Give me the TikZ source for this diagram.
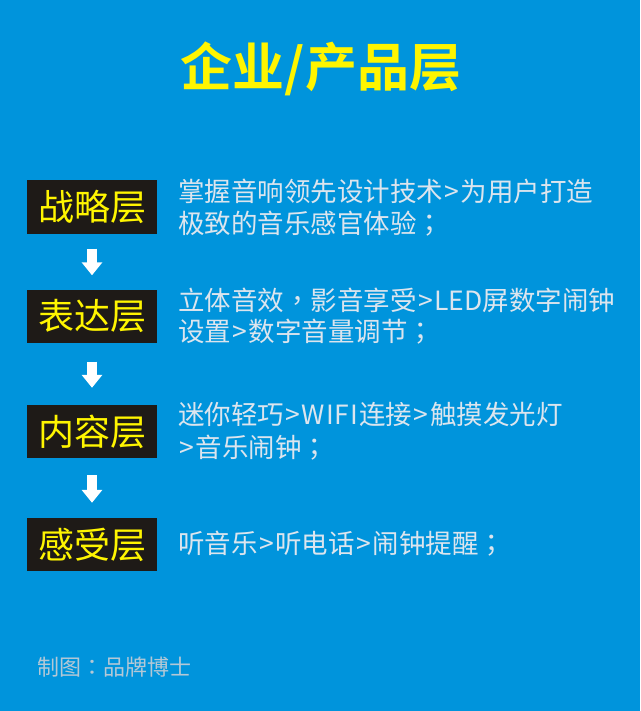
\documentclass[tikz,border=0pt]{standalone}
\usepackage{fontspec}
\setmainfont{Noto Sans CJK SC}[BoldFont={* Bold}]
\newfontfamily\tcpunct{Noto Sans CJK TC}
\newcommand{\cp}[1]{{\tcpunct #1}}
\newcommand{\gtsign}{\kern1.5pt>\kern1.5pt}
\usetikzlibrary{arrows.meta}
\definecolor{bgblue}{HTML}{0094DC}
\definecolor{boxdark}{HTML}{1E1A17}
\definecolor{ltext}{HTML}{DCE5EE}
\definecolor{ftext}{HTML}{B4C8D6}
\definecolor{ylw}{HTML}{FFF500}
\begin{document}
\begin{tikzpicture}[x=1pt,y=-1pt,
  layerbox/.style={fill=boxdark, text=ylw, minimum width=130pt, minimum height=53pt, inner sep=0pt,
    font=\fontsize{36}{40}\selectfont},
  desc/.style={anchor=west, inner sep=0pt, text=ltext, font=\fontsize{26.5}{30}\selectfont},
  titlestyle/.style={inner sep=0pt, text=ylw, font=\fontsize{52}{56}\selectfont\bfseries},
  footstyle/.style={anchor=west, inner sep=0pt, text=ftext, font=\fontsize{22}{26}\selectfont},
  flow/.style={draw=white, line width=10pt, -{Triangle[width=20pt,length=13pt]}}
]
\fill[bgblue] (0,0) rectangle (640,711);
\useasboundingbox (0,0) rectangle (640,711);

\node[titlestyle] (title) at (321,69) {企业/产品层};

\node[layerbox] (b1) at (92,207) {战略层};
\node[layerbox] (b2) at (92,316) {表达层};
\node[layerbox] (b3) at (92,431.5) {内容层};
\node[layerbox] (b4) at (92,544.5) {感受层};

\draw[flow, shorten <=15pt, shorten >=14pt] (b1) -- (b2);
\draw[flow, shorten <=19pt, shorten >=17pt] (b2) -- (b3);
\draw[flow, shorten <=17pt, shorten >=15pt] (b3) -- (b4);

\node[desc] (t1a) at (178,191) {掌握音响领先设计技术\gtsign 为用户打造};
\node[desc] (t1b) at (178,224) {极致的音乐感官体验\cp{；}};
\node[desc] (t2a) at (178,300) {立体音效\cp{，}影音享受\gtsign LED屏数字闹钟};
\node[desc] (t2b) at (178,332) {设置\gtsign 数字音量调节\cp{；}};
\node[desc] (t3a) at (178,414) {迷你轻巧\gtsign W\kern1pt I\kern1pt F\kern1pt I\kern1pt 连接\gtsign 触摸发光灯};
\node[desc] (t3b) at (178,448) {\gtsign 音乐闹钟\cp{；}};
\node[desc] (t4a) at (178,544) {听音乐\gtsign 听电话\gtsign 闹钟提醒\cp{；}};

\node[footstyle] (foot) at (37,667) {制图\cp{：}品牌博士};
\end{tikzpicture}
\end{document}
